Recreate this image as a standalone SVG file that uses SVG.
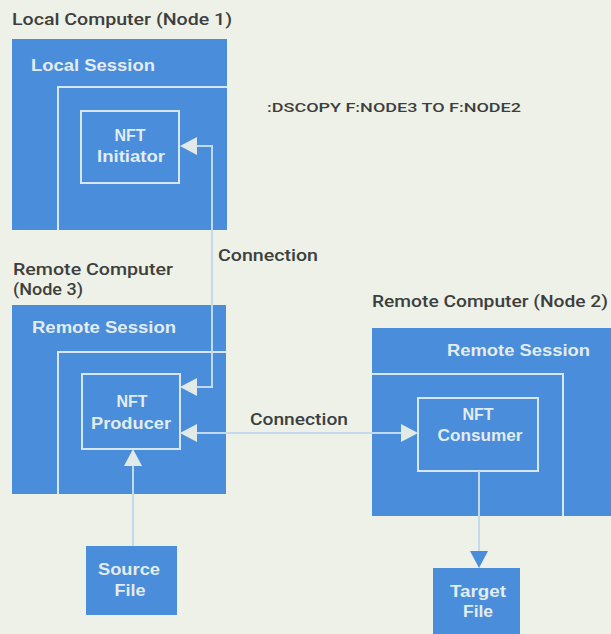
<svg xmlns="http://www.w3.org/2000/svg" width="611" height="634" viewBox="0 0 611 634">
<style>
.bg{fill:#eef1e7}
.blue{fill:#4a8dda}
.frame{fill:none;stroke:#d6e6f2;stroke-width:2}
.ink{font-family:Roboto,"Liberation Sans",sans-serif;font-weight:500;font-size:16px;fill:#3d3f3e}
.cmd{font-family:Roboto,"Liberation Sans",sans-serif;font-weight:500;font-size:12px;fill:#3d3f3e}
.wt{font-family:"Liberation Sans",Arial,sans-serif;font-weight:bold;font-size:16px;fill:#e3ecee}
.mid{text-anchor:middle}
.line{fill:none;stroke:#c3d9ee;stroke-width:2}
.head{fill:#e2eae8}
.headb{fill:#4a8dda}
</style>
<rect class="bg" x="0" y="0" width="611" height="634"/>

<g id="local-computer">
  <text class="ink" x="12" y="25" textLength="220" lengthAdjust="spacingAndGlyphs">Local Computer (Node 1)</text>
  <rect class="blue" x="12" y="39" width="215" height="191"/>
  <path class="frame" d="M58,230 V87 H227"/>
  <text class="wt" x="31" y="71" textLength="124" lengthAdjust="spacingAndGlyphs">Local Session</text>
</g>
<g id="nft-initiator">
  <rect class="frame" x="81" y="111" width="98" height="72"/>
  <text class="wt mid" x="130" y="141">NFT</text>
  <text class="wt mid" x="131" y="162" textLength="68" lengthAdjust="spacingAndGlyphs">Initiator</text>
</g>
<g id="command">
  <text class="cmd" x="267" y="112" textLength="254" lengthAdjust="spacingAndGlyphs">:DSCOPY F:NODE3 TO F:NODE2</text>
</g>

<g id="remote-computer-3">
  <text class="ink" x="13" y="275" textLength="160" lengthAdjust="spacingAndGlyphs">Remote Computer</text>
  <text class="ink" x="13" y="295" textLength="70" lengthAdjust="spacingAndGlyphs">(Node 3)</text>
  <rect class="blue" x="12" y="305" width="214" height="189"/>
  <path class="frame" d="M58,494 V352 H226"/>
  <text class="wt" x="32" y="333" textLength="144" lengthAdjust="spacingAndGlyphs">Remote Session</text>
</g>
<g id="nft-producer">
  <rect class="frame" x="82" y="374" width="98" height="75"/>
  <text class="wt mid" x="132" y="407">NFT</text>
  <text class="wt mid" x="131" y="429" textLength="80" lengthAdjust="spacingAndGlyphs">Producer</text>
</g>

<g id="remote-computer-2">
  <text class="ink" x="372" y="307" textLength="236" lengthAdjust="spacingAndGlyphs">Remote Computer (Node 2)</text>
  <rect class="blue" x="372" y="328" width="239" height="188"/>
  <path class="frame" d="M372,374 H563 V516"/>
  <text class="wt" x="447" y="356" textLength="143" lengthAdjust="spacingAndGlyphs">Remote Session</text>
</g>
<g id="nft-consumer">
  <rect class="frame" x="418" y="398" width="120" height="73"/>
  <text class="wt mid" x="478" y="420">NFT</text>
  <text class="wt mid" x="480" y="441" textLength="85" lengthAdjust="spacingAndGlyphs">Consumer</text>
</g>

<g id="source-file">
  <rect class="blue" x="86" y="546" width="91" height="69"/>
  <text class="wt mid" x="129" y="575" textLength="62" lengthAdjust="spacingAndGlyphs">Source</text>
  <text class="wt mid" x="130" y="596" textLength="31" lengthAdjust="spacingAndGlyphs">File</text>
</g>
<g id="target-file">
  <rect class="blue" x="433" y="568" width="87" height="66"/>
  <text class="wt mid" x="478" y="597" textLength="56" lengthAdjust="spacingAndGlyphs">Target</text>
  <text class="wt mid" x="478" y="617" textLength="30" lengthAdjust="spacingAndGlyphs">File</text>
</g>

<g id="connectors">
  <path class="line" d="M196,146 H212 V387 H196"/>
  <polygon class="head" points="180,146 197,137 197,155"/>
  <polygon class="head" points="180,387 197,378 197,396"/>
  <text class="ink" x="218" y="261" textLength="100" lengthAdjust="spacingAndGlyphs">Connection</text>

  <path class="line" d="M196,433 H402"/>
  <polygon class="head" points="180,433 197,424 197,442"/>
  <polygon class="head" points="418,433 401,424 401,442"/>
  <text class="ink" x="250" y="425" textLength="98" lengthAdjust="spacingAndGlyphs">Connection</text>

  <path class="line" d="M133,546 V464"/>
  <polygon class="head" points="133,449 124,466 142,466"/>

  <path class="line" d="M479,471 V553"/>
  <polygon class="headb" points="479,568 470,551 488,551"/>
</g>
</svg>
